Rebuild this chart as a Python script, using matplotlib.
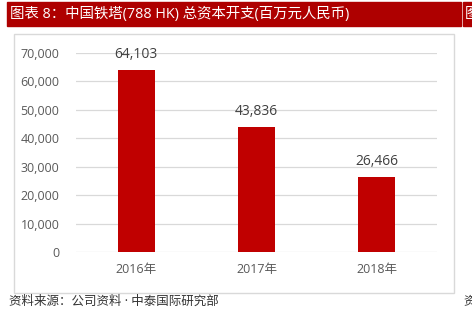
import matplotlib.pyplot as plt
from matplotlib.patches import Rectangle

plt.rcParams['font.family'] = ['Open Sans', 'Noto Sans CJK SC', 'DejaVu Sans']

years = ['2016年', '2017年', '2018年']
capex = [64103, 43836, 26466]
yticks = [0, 10000, 20000, 30000, 40000, 50000, 60000, 70000]

W, H = 472, 320
fig = plt.figure(figsize=(W / 100, H / 100), dpi=100)

# title bars
fig.patches.append(Rectangle((7 / W, 1 - 26 / H), 454 / W, 24 / H,
                             transform=fig.transFigure, color='#AE0000', zorder=0))
fig.patches.append(Rectangle((463 / W, 1 - 26 / H), 20 / W, 24 / H,
                             transform=fig.transFigure, color='#AE0000', zorder=0))
fig.text(10 / W, 1 - 14.5 / H, '图表 8：中国铁塔(788 HK) 总资本开支(百万元人民币)',
         color='white', fontsize=10.4, va='center', ha='left')
fig.text(465 / W, 1 - 14.5 / H, '图', color='white', fontsize=10.4, va='center', ha='left')

# panel border
fig.patches.append(Rectangle((14 / W, 1 - 293 / H), 440 / W, 259 / H,
                             transform=fig.transFigure, fill=False,
                             edgecolor='#D9D9D9', linewidth=1, zorder=0))

ax = fig.add_axes([76 / W, 1 - 252 / H, 361 / W, 199 / H])
x = range(len(years))
ax.bar(x, capex, width=0.31, color='#C00000', zorder=3)
for xi, v in zip(x, capex):
    ax.text(xi, v + 2800, f'{v:,}', ha='center', va='bottom', fontsize=10, color='#404040')

ax.set_xlim(-0.5, 2.5)
ax.set_ylim(0, 70000)
ax.set_yticks(yticks)
ax.set_yticklabels([f'{t:,}' for t in yticks], fontsize=9, color='#595959')
ax.set_xticks(list(x))
ax.set_xticklabels(years, fontsize=9, color='#595959')
ax.tick_params(length=0, pad=12)
ax.tick_params(axis='x', pad=8)
ax.grid(axis='y', color='#D9D9D9', linewidth=0.9, zorder=0)
for s in ax.spines.values():
    s.set_visible(False)
ax.set_axisbelow(True)

fig.text(9 / W, 1 - 301 / H, '资料来源：公司资料 · 中泰国际研究部', fontsize=9,
         color='#333333', va='center', ha='left')
fig.text(463 / W, 1 - 301 / H, '资', fontsize=9, color='#333333', va='center', ha='left')

fig.savefig('out.png', dpi=100)
